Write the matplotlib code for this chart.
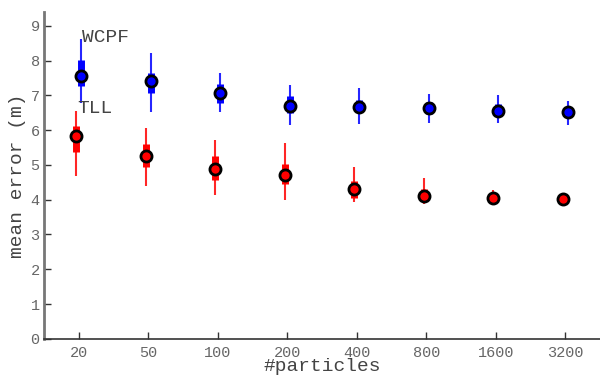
import matplotlib
matplotlib.use("Agg")
import matplotlib.pyplot as plt
import numpy as np

particles = ["20", "50", "100", "200", "400", "800", "1600", "3200"]

wcpf_median = [7.57, 7.41, 7.06, 6.70, 6.67, 6.65, 6.56, 6.52]
wcpf_q1 = [7.27, 7.07, 6.79, 6.50, 6.52, 6.46, 6.48, 6.37]
wcpf_q3 = [8.03, 7.65, 7.32, 6.98, 6.88, 6.81, 6.75, 6.62]
wcpf_lo = [6.79, 6.51, 6.51, 6.16, 6.19, 6.20, 6.22, 6.15]
wcpf_hi = [8.62, 8.21, 7.66, 7.29, 7.21, 7.04, 7.02, 6.83]

tll_median = [5.82, 5.25, 4.87, 4.70, 4.32, 4.12, 4.05, 4.01]
tll_q1 = [5.38, 4.95, 4.56, 4.45, 4.05, 3.99, 4.00, 3.95]
tll_q3 = [6.12, 5.60, 5.25, 5.04, 4.54, 4.31, 4.18, 4.10]
tll_lo = [4.68, 4.40, 4.13, 3.99, 3.94, 3.87, 3.91, 3.92]
tll_hi = [6.55, 6.07, 5.71, 5.64, 4.95, 4.62, 4.28, 4.18]

font = "Liberation Mono"
plt.rcParams['font.family'] = [font, 'DejaVu Sans Mono']

fig = plt.figure(figsize=(6.0, 3.76), dpi=100)
ax = fig.add_axes([0.073, 0.099, 0.927, 0.869])

x = np.arange(1, len(particles) + 1)
off = 0.035

def draw(xpos, med, q1, q3, lo, hi, color):
    ax.vlines(xpos, lo, hi, color=color, lw=1.5, alpha=0.85, zorder=2)
    ax.vlines(xpos, q1, q3, color=color, lw=5.0, zorder=3)
    ax.plot(xpos, med, 'o', ms=8, mfc=color, mec='black', mew=2.0, zorder=4, ls='none')

draw(x - off, tll_median, tll_q1, tll_q3, tll_lo, tll_hi, '#ff0000')
draw(x + off, wcpf_median, wcpf_q1, wcpf_q3, wcpf_lo, wcpf_hi, '#0000ff')

ax.text(1.05, 8.43, "WCPF", fontsize=14, color='#444444', va='bottom', ha='left')
ax.text(0.98, 6.37, "TLL", fontsize=14, color='#444444', va='bottom', ha='left')

ax.set_xlim(0.5, 8.5)
ax.set_ylim(0, 9.4)
ax.set_xticks(x)
ax.set_xticklabels(particles)
ax.set_yticks(range(0, 10))
ax.tick_params(axis='both', direction='in', length=5, width=1, colors='#333333', labelcolor='#666666', labelsize=11)
ax.tick_params(axis='y', pad=3)
ax.tick_params(axis='x', pad=5)
ax.spines['top'].set_visible(False)
ax.spines['right'].set_visible(False)
ax.spines['left'].set_color('#777777')
ax.spines['left'].set_linewidth(2)
ax.spines['bottom'].set_color('#333333')
ax.spines['bottom'].set_linewidth(1.2)
ax.set_xlabel("#particles", fontsize=14, color='#444444', labelpad=-1)
ax.set_ylabel("mean error (m)", fontsize=14, color='#444444', labelpad=3)

fig.savefig("out.png", dpi=100)
